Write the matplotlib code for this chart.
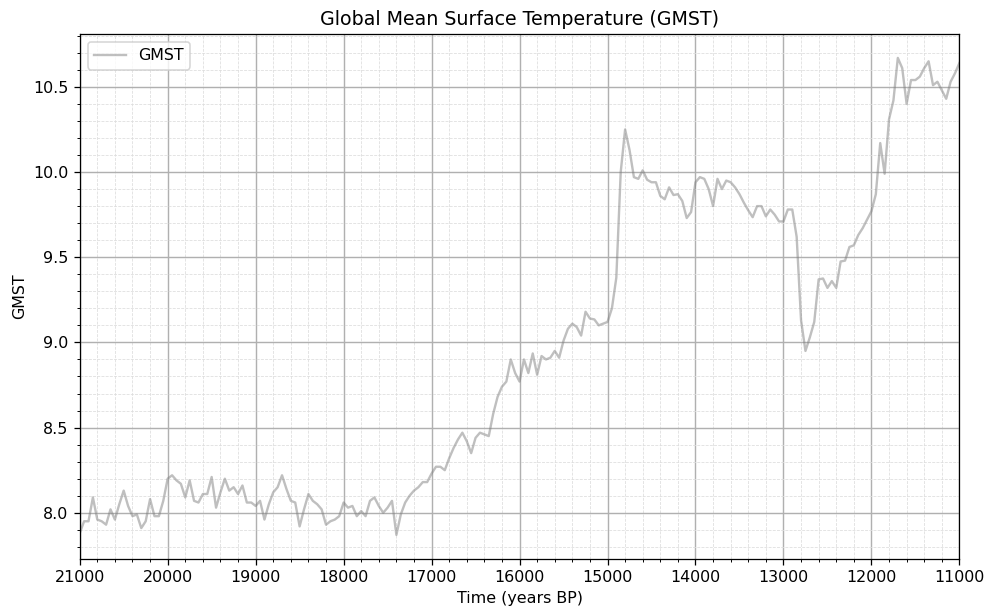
import matplotlib
matplotlib.use("Agg")
import matplotlib.pyplot as plt
from matplotlib.ticker import MultipleLocator

# time axis, years before present, every 50 years
years = list(range(21000, 10950, -50))

# GMST
gmst = [
    7.88, 7.95, 7.95, 8.09, 7.96, 7.95, 7.93, 8.02, 7.96, 8.05,   # 21000-20550
    8.13, 8.04, 7.98, 7.99, 7.91, 7.95, 8.08, 7.98, 7.98, 8.07,   # 20500-20050
    8.20, 8.22, 8.19, 8.17, 8.09, 8.19, 8.07, 8.06, 8.11, 8.11,   # 20000-19550
    8.21, 8.03, 8.12, 8.20, 8.13, 8.15, 8.11, 8.16, 8.06, 8.06,   # 19500-19050
    8.04, 8.07, 7.96, 8.05, 8.12, 8.15, 8.22, 8.14, 8.07, 8.06,   # 19000-18550
    7.92, 8.02, 8.11, 8.07, 8.05, 8.02, 7.93, 7.95, 7.96, 7.98,   # 18500-18050
    8.06, 8.03, 8.04, 7.98, 8.01, 7.98, 8.07, 8.09, 8.04, 8.00,   # 18000-17550
    8.03, 8.07, 7.87, 7.99, 8.06, 8.10, 8.13, 8.15, 8.18, 8.18,   # 17500-17050
    8.23, 8.27, 8.27, 8.25, 8.32, 8.38, 8.43, 8.47, 8.42, 8.35,   # 17000-16550
    8.44, 8.47, 8.46, 8.45, 8.58, 8.68, 8.74, 8.77, 8.90, 8.82,   # 16500-16050
    8.77, 8.90, 8.82, 8.935, 8.81, 8.92, 8.90, 8.91, 8.95, 8.91,  # 16000-15550
    9.01, 9.08, 9.11, 9.09, 9.04, 9.18, 9.14, 9.135, 9.10, 9.11,  # 15500-15050
    9.12, 9.20, 9.38, 10.00, 10.25, 10.13, 9.97, 9.96, 10.01, 9.955,  # 15000-14550
    9.94, 9.94, 9.86, 9.84, 9.91, 9.865, 9.87, 9.83, 9.73, 9.765,  # 14500-14050
    9.94, 9.97, 9.96, 9.90, 9.80, 9.96, 9.90, 9.95, 9.94, 9.91,   # 14000-13550
    9.87, 9.82, 9.775, 9.735, 9.80, 9.80, 9.74, 9.78, 9.75, 9.71,  # 13500-13050
    9.71, 9.78, 9.78, 9.62, 9.13, 8.95, 9.03, 9.12, 9.37, 9.375,  # 13000-12550
    9.32, 9.36, 9.32, 9.475, 9.48, 9.56, 9.57, 9.63, 9.67, 9.72,  # 12500-12050
    9.77, 9.87, 10.17, 9.99, 10.31, 10.42, 10.67, 10.61, 10.40, 10.54,  # 12000-11550
    10.54, 10.56, 10.61, 10.65, 10.51, 10.53, 10.48, 10.43, 10.53, 10.58,  # 11500-11050
    10.64,  # 11000
]

dpi = 114
fig, ax = plt.subplots(figsize=(984 / dpi, 608 / dpi), dpi=dpi)
fig.subplots_adjust(left=0.081, right=0.975, top=0.944, bottom=0.081)

ax.plot(years, gmst, color="gray", alpha=0.5, linewidth=1.5, label="GMST")

ax.set_xlim(21000, 11000)
ax.set_title("Global Mean Surface Temperature (GMST)")
ax.set_xlabel("Time (years BP)")
ax.set_ylabel("GMST")

ax.xaxis.set_major_locator(MultipleLocator(1000))
ax.xaxis.set_minor_locator(MultipleLocator(200))
ax.yaxis.set_major_locator(MultipleLocator(0.5))
ax.yaxis.set_minor_locator(MultipleLocator(0.1))
ax.grid(which="major", color="#b0b0b0", linestyle="-", linewidth=0.9)
ax.grid(which="minor", color="#dddddd", linestyle="--", linewidth=0.5)

ax.legend(loc="upper left")

plt.savefig("out.png", dpi=dpi)
